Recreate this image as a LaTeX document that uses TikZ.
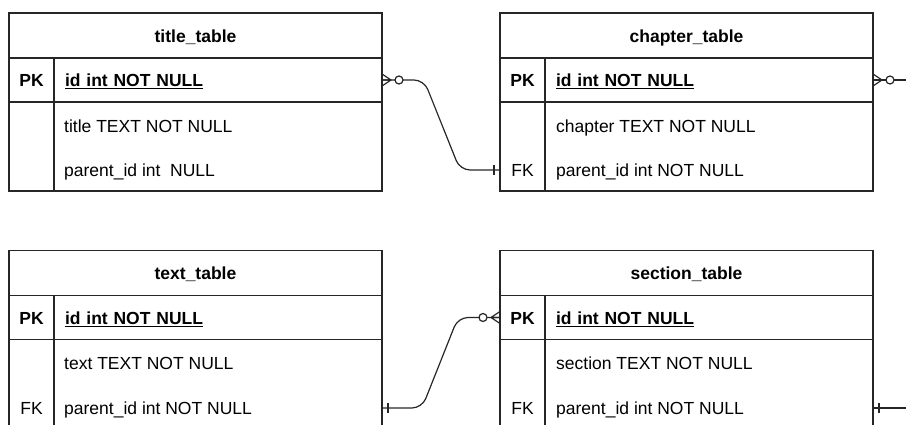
\documentclass[tikz,border=0pt]{standalone}
\usepackage{fontspec}
\setmainfont{Liberation Sans}
\newcommand{\erfont}{\fontsize{17.5}{21}\selectfont}

\begin{document}
\begin{tikzpicture}[x=1pt,y=-1pt,font=\erfont,
  ln/.style={line width=1.2pt,draw=black!85},
  cell/.style={ln,inner sep=0pt,outer sep=0pt,text height=15pt,text depth=1.5pt},
  hd/.style={cell,minimum width=373pt,minimum height=45pt,font=\erfont\bfseries},
  key/.style={cell,minimum width=45pt,minimum height=44pt},
  pk/.style={key,font=\erfont\bfseries},
  fld/.style={cell,inner xsep=11pt,text width=306pt,minimum height=44pt,align=left},
  idrow/.style={fld,font=\erfont\bfseries},
  tall/.style={minimum height=89pt},
  row/.style={anchor=west,inner sep=0pt,text height=15pt,text depth=1.5pt},
  fk/.style={inner sep=0pt,text height=15pt,text depth=1.5pt},
  many/.pic={\draw[ln] (0,-6)--(-9,0)--(0,6) (0,0)--(-9,0); \draw[ln,fill=white] (-17,0) circle[radius=4];},
  one/.pic={\draw[ln] (-6,-5)--(-6,5);}]
\useasboundingbox (0,0) rectangle (906,425);
\clip (0,0) rectangle (906,425);
% title_table
\node[hd] (th) at (195.5,35.5) {title\_table};
\node[pk] (tpk) at (31.5,80) {PK};
\node[idrow] (tid) at (218,80) {\underline{id int NOT NULL}};
\node[key,tall] (tk) at (31.5,146.5) {};
\node[fld,tall] (tf) at (218,146.5) {};
\node[row] (t1) at (64,126) {title TEXT NOT NULL};
\node[row] (t2) at (64,170) {parent\_id int\ \ NULL};
% chapter_table
\node[hd] (ch) at (686.5,35.5) {chapter\_table};
\node[pk] (cpk) at (522.5,80) {PK};
\node[idrow] (cid) at (709,80) {\underline{id int NOT NULL}};
\node[key,tall] (ck) at (522.5,146.5) {};
\node[fld,tall] (cf) at (709,146.5) {};
\node[row] (c1) at (556,126) {chapter TEXT NOT NULL};
\node[row] (c2) at (556,170) {parent\_id int NOT NULL};
\node[fk] (cfk) at (522.5,170) {FK};
% text_table
\node[hd] (xh) at (195.5,273) {text\_table};
\node[pk] (xpk) at (31.5,317.5) {PK};
\node[idrow] (xid) at (218,317.5) {\underline{id int NOT NULL}};
\node[key,tall] (xk) at (31.5,384) {};
\node[fld,tall] (xf) at (218,384) {};
\node[row] (x1) at (64,363) {text TEXT NOT NULL};
\node[row] (x2) at (64,408) {parent\_id int NOT NULL};
\node[fk] (xfk) at (31.5,408) {FK};
% section_table
\node[hd] (sh) at (686.5,273) {section\_table};
\node[pk] (spk) at (522.5,317.5) {PK};
\node[idrow] (sid) at (709,317.5) {\underline{id int NOT NULL}};
\node[key,tall] (sk) at (522.5,384) {};
\node[fld,tall] (sf) at (709,384) {};
\node[row] (s1) at (556,363) {section TEXT NOT NULL};
\node[row] (s2) at (556,408) {parent\_id int NOT NULL};
\node[fk] (sfk) at (522.5,408) {FK};
\coordinate (cx) at (906,80);
\coordinate (sx) at (906,408);
% relations
\draw[ln,rounded corners=10pt] (tid.east) -- ++(42,0) -- ++(36,90) -- (ck.west|-cfk);
\draw[ln,rounded corners=10pt] (xf.east|-xfk) -- ++(40,0) -- ++(36,-90.5) -- (spk.west);
\draw[ln] (cid.east) -- (cx);
\draw[ln] (sf.east|-sfk) -- (sx);
\pic[rotate=180] at (tid.east) {many};
\pic at (ck.west|-cfk) {one};
\pic[rotate=180] at (cid.east) {many};
\pic[rotate=180] at (xf.east|-xfk) {one};
\pic at (spk.west) {many};
\pic[rotate=180] at (sf.east|-sfk) {one};
\end{tikzpicture}
\end{document}
